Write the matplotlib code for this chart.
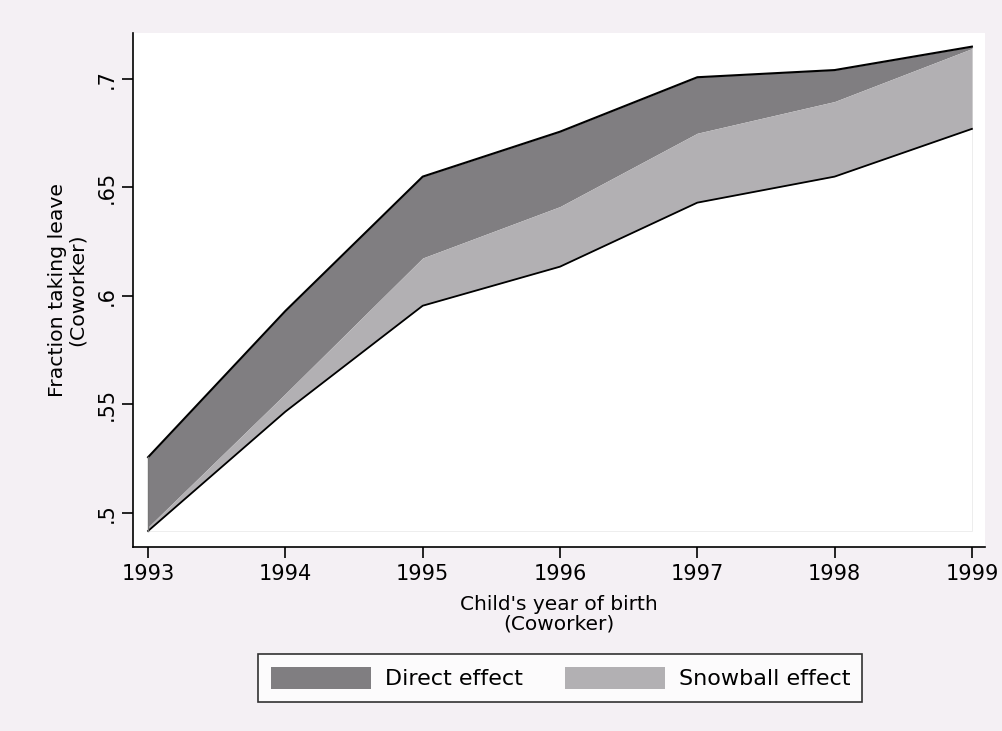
import numpy as np
import matplotlib.pyplot as plt

plt.rcParams['font.family'] = ['DejaVu Sans']

years = [1993, 1994, 1995, 1996, 1997, 1998, 1999]
top = [0.5257, 0.5931, 0.6550, 0.6757, 0.7008, 0.7041, 0.7149]
middle = [0.4935, 0.5550, 0.6175, 0.6412, 0.6750, 0.6896, 0.7140]
lower = [0.4917, 0.5467, 0.5955, 0.6135, 0.6430, 0.6550, 0.6770]

yticks = [0.5, 0.55, 0.6, 0.65, 0.7]
ytick_labels = ['.5', '.55', '.6', '.65', '.7']

bg = '#f4f0f4'
dark = '#807e81'
light = '#b2b0b3'

fig = plt.figure(figsize=(10.03, 7.31), dpi=100, facecolor=bg)
ax = fig.add_axes([0.1326, 0.2517, 0.8494, 0.7032])
ax.set_facecolor('white')

# base outline of the area plot
base = min(lower)
ax.plot([years[0], years[-1], years[-1]], [base, base, top[-1]],
        color='#dcdcdc', lw=1.2, zorder=1)

ax.fill_between(years, middle, top, color=dark, lw=0, zorder=2, label='Direct effect')
ax.fill_between(years, lower, middle, color=light, lw=0, zorder=2, label='Snowball effect')
ax.fill_between(years, base, lower, color='white', lw=0, zorder=2)
ax.plot(years, top, color='black', lw=1.5, zorder=3)
ax.plot(years, lower, color='black', lw=1.3, zorder=3)
ax.plot([years[0], years[0]], [lower[0], top[0]], color='#777777', lw=1, zorder=3)

ax.set_xlim(1992.89, 1999.095)
ax.set_ylim(0.4843, 0.7212)
ax.set_xticks(years)
ax.set_yticks(yticks)
ax.set_yticklabels(ytick_labels, rotation=90, va='center')

for s in ['top', 'right']:
    ax.spines[s].set_visible(False)
for s in ['left', 'bottom']:
    ax.spines[s].set_linewidth(1.2)
ax.tick_params(axis='both', length=8, width=1.2, labelsize=15, pad=4)

ax.set_xlabel("Child's year of birth\n(Coworker)", fontsize=14.5, linespacing=1.05, labelpad=8)
ax.set_ylabel("Fraction taking leave\n(Coworker)", fontsize=14.7, linespacing=1.05, labelpad=7)

leg = fig.legend(loc='center', bbox_to_anchor=(0.5588, 0.0725), ncol=2, fontsize=16,
                 frameon=True, fancybox=False, edgecolor='black', handlelength=4.5,
                 handleheight=1.17, columnspacing=1.9, borderpad=0.55, handletextpad=0.63)
leg.get_frame().set_linewidth(1.2)
leg.get_frame().set_facecolor('white')

plt.savefig('out.png', dpi=100, facecolor=bg)
